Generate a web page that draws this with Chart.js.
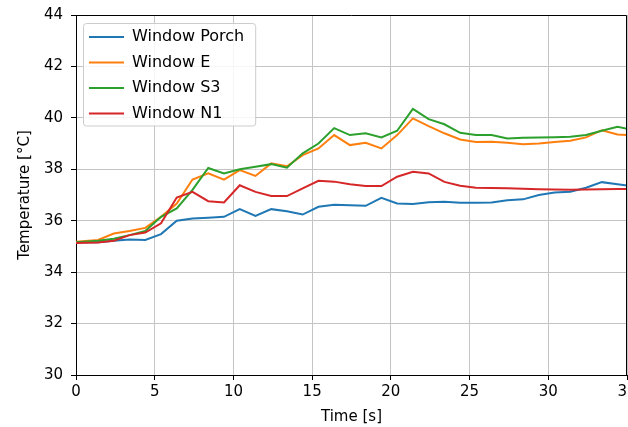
<!DOCTYPE html>
<html>
<head>
<meta charset="utf-8">
<script src="https://cdn.jsdelivr.net/npm/chart.js@4.4.0/dist/chart.umd.min.js"></script>
<style>
  body { margin: 0; background: #fff; }
  canvas { display: block; }
</style>
</head>
<body>
<canvas id="chart" width="628" height="427"></canvas>
<script>
// ===== Data =====
const times = [0, 1.4, 2.4, 3.4, 4.4, 5.4, 6.4, 7.4, 8.4, 9.4, 10.4, 11.4, 12.4, 13.4, 14.4, 15.4, 16.4, 17.4,
    18.4, 19.4, 20.4, 21.4, 22.4, 23.4, 24.4, 25.4, 26.4, 27.4, 28.4, 29.4, 30.4, 31.4, 32.4, 33.4, 34.4, 35.4];

const windowPorch = [35.16, 35.16, 35.22, 35.27, 35.25, 35.48, 36.0, 36.09, 36.12, 36.15, 36.45, 36.19, 36.45, 36.37,
    36.24, 36.54, 36.62, 36.6, 36.58, 36.89, 36.67, 36.65, 36.72, 36.74, 36.7, 36.7, 36.71, 36.8, 36.83, 37.0,
    37.1, 37.13, 37.28, 37.5, 37.42, 37.33];
const windowE = [35.18, 35.25, 35.5, 35.6, 35.72, 36.15, 36.67, 37.6, 37.84, 37.6, 37.97, 37.74, 38.23, 38.12,
    38.55, 38.81, 39.33, 38.94, 39.03, 38.81, 39.33, 39.98, 39.68, 39.4, 39.16, 39.06, 39.07, 39.03, 38.97, 39.0,
    39.06, 39.11, 39.24, 39.52, 39.35, 39.33];
const windowS3 = [35.16, 35.22, 35.3, 35.44, 35.6, 36.15, 36.48, 37.2, 38.05, 37.84, 38.0, 38.1, 38.2, 38.06,
    38.62, 39.0, 39.6, 39.33, 39.4, 39.24, 39.5, 40.35, 39.95, 39.75, 39.42, 39.33, 39.33, 39.2, 39.23, 39.24,
    39.25, 39.27, 39.33, 39.5, 39.65, 39.53];
const windowN1 = [35.13, 35.15, 35.22, 35.44, 35.54, 35.9, 36.9, 37.12, 36.76, 36.71, 37.38, 37.12, 36.96, 36.96,
    37.26, 37.55, 37.52, 37.42, 37.35, 37.35, 37.71, 37.9, 37.84, 37.51, 37.36, 37.28, 37.27, 37.26, 37.24, 37.22,
    37.21, 37.2, 37.21, 37.22, 37.23, 37.24];

const seriesNames = ["Window Porch", "Window E", "Window S3", "Window N1"];
const seriesValues = [windowPorch, windowE, windowS3, windowN1];
const seriesColors = ["#1f77b4", "#ff7f0e", "#2ca02c", "#d62728"];

// axis ranges / ticks
const xMin = 0, xMax = 35, xStep = 5;
const yMin = 30, yMax = 44, yStep = 2;

Chart.defaults.font.family = "'DejaVu Sans', sans-serif";
Chart.defaults.color = "#000";

// ===== Plugins =====
// matplotlib-style legend frame, drawn just before the legend itself (above the grid)
const legendFrame = {
    id: "legendFrame",
    afterLayout(chart) {
        const lg = chart.legend;
        lg.left = chart.chartArea.left + 3.5;
        lg.top = chart.chartArea.top + 4.5;
        if (!lg._wrapped) {
            const origDraw = lg.draw;
            lg.draw = function (area) {
                const hb = this.legendHitBoxes;
                if (hb && hb.length) {
                    const ctx = chart.ctx;
                    let right = 0;
                    hb.forEach(h => { right = Math.max(right, h.left + h.width); });
                    const last = hb[hb.length - 1];
                    const x0 = hb[0].left - 5.5, y0 = hb[0].top - 5.5;
                    const x1 = right + 11.5, y1 = last.top + last.height + 4.5;
                    const r = 3;
                    ctx.save();
                    ctx.beginPath();
                    ctx.moveTo(x0 + r, y0);
                    ctx.lineTo(x1 - r, y0);
                    ctx.arcTo(x1, y0, x1, y0 + r, r);
                    ctx.lineTo(x1, y1 - r);
                    ctx.arcTo(x1, y1, x1 - r, y1, r);
                    ctx.lineTo(x0 + r, y1);
                    ctx.arcTo(x0, y1, x0, y1 - r, r);
                    ctx.lineTo(x0, y0 + r);
                    ctx.arcTo(x0, y0, x0 + r, y0, r);
                    ctx.closePath();
                    ctx.fillStyle = "rgba(255,255,255,0.85)";
                    ctx.fill();
                    ctx.strokeStyle = "#cccccc";
                    ctx.lineWidth = 1;
                    ctx.stroke();
                    ctx.restore();
                }
                origDraw.call(this, area);
            };
            lg._wrapped = true;
        }
    }
};

// top and right spines
const boxSpines = {
    id: "boxSpines",
    afterDraw(chart) {
        const {ctx, chartArea} = chart;
        ctx.save();
        ctx.strokeStyle = "#000";
        ctx.lineWidth = 1;
        ctx.beginPath();
        ctx.moveTo(Math.round(chartArea.left) + 0.5, Math.round(chartArea.top) + 0.5);
        ctx.lineTo(Math.round(chartArea.right) - 0.5, Math.round(chartArea.top) + 0.5);
        ctx.lineTo(Math.round(chartArea.right) - 0.5, Math.round(chartArea.bottom) + 0.5);
        ctx.stroke();
        ctx.restore();
    }
};

// ===== Build chart =====
const datasets = seriesNames.map((name, i) => ({
    label: name,
    data: times.map((t, k) => ({x: t, y: seriesValues[i][k]})),
    borderColor: seriesColors[i],
    backgroundColor: seriesColors[i],
    borderWidth: 2,
    pointRadius: 0,
    tension: 0,
    order: seriesNames.length - i
}));

const ctx = document.getElementById("chart").getContext("2d");
new Chart(ctx, {
    type: "line",
    data: {datasets: datasets},
    options: {
        responsive: false,
        animation: false,
        devicePixelRatio: 1,
        layout: {padding: {left: 0, right: 1, top: 15, bottom: 0}},
        plugins: {
            tooltip: {enabled: false},
            legend: {
                position: "chartArea",
                align: "start",
                labels: {
                    font: {size: 16},
                    color: "#000",
                    boxWidth: 35,
                    boxHeight: 2,
                    padding: 9.5,
                    sort: (a, b) => a.datasetIndex - b.datasetIndex,
                    generateLabels(chart) {
                        const items = Chart.defaults.plugins.legend.labels.generateLabels(chart);
                        items.forEach(it => {
                            it.fillStyle = it.strokeStyle;
                            it.lineWidth = 0;
                        });
                        return items;
                    }
                }
            }
        },
        scales: {
            x: {
                type: "linear",
                min: xMin,
                max: xMax,
                ticks: {stepSize: xStep, font: {size: 15}, color: "#000", padding: 3, maxRotation: 0},
                grid: {color: "#c4c4c4", lineWidth: 1, tickLength: 5, tickColor: "#000", tickWidth: 1},
                border: {display: true, color: "#000", width: 1},
                title: {display: true, text: "Time [s]", font: {size: 15}, color: "#000", padding: {top: 0, bottom: 1}},
                afterFit(scale) {
                    scale.height = 52;
                    scale.paddingLeft = 0;
                    scale.paddingRight = 0;
                }
            },
            y: {
                min: yMin,
                max: yMax,
                ticks: {stepSize: yStep, font: {size: 15}, color: "#000", padding: 8},
                grid: {color: "#c4c4c4", lineWidth: 1, tickLength: 5, tickColor: "#000", tickWidth: 1},
                border: {display: true, color: "#000", width: 1},
                title: {display: true, text: "Temperature [°C]", font: {size: 15}, color: "#000", padding: {top: 16, bottom: 0}},
                afterFit(scale) {
                    scale.width = 76;
                    scale.paddingTop = 0;
                    scale.paddingBottom = 0;
                }
            }
        }
    },
    plugins: [legendFrame, boxSpines]
});
</script>
</body>
</html>
